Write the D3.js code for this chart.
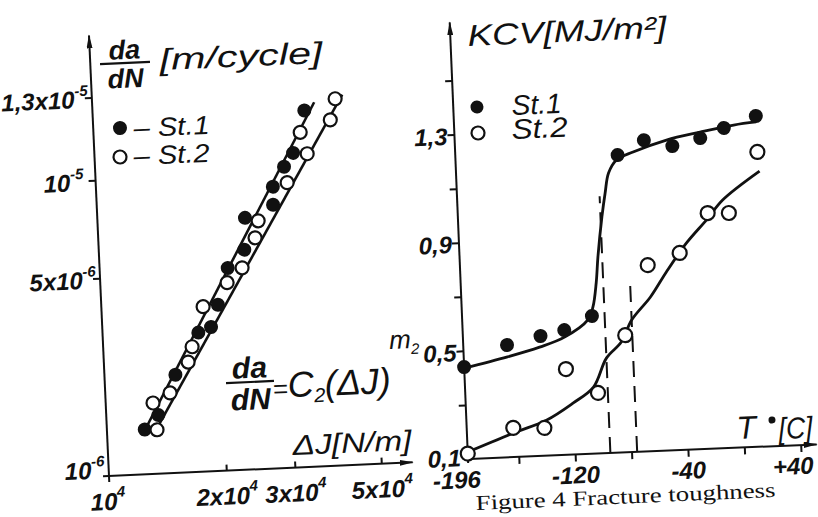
<!DOCTYPE html>
<html lang="en">
<head>
<meta charset="utf-8">
<title>Crack growth rate and impact toughness</title>
<script src="https://d3js.org/d3.v7.min.js"></script>
<style>
  body { margin: 0; background: #fff; }
  svg text { font-family: "Liberation Sans", "DejaVu Sans", sans-serif; font-style: italic; fill: #111; }
</style>
</head>
<body>
<div id="chart"></div>
<script>
// ---- left panel: da/dN vs dJ (log-log) ----
const dJ_st1   = [12500, 13600, 15200, 17600, 19000, 19900, 21300, 23600, 23900, 28300, 28400, 30500, 32300, 34900];
const dadN_st1 = [1.44e-6, 1.61e-6, 2.22e-6, 3.10e-6, 3.23e-6, 3.86e-6, 5.16e-6, 5.84e-6, 7.31e-6, 7.95e-6, 9.03e-6, 1.016e-5, 1.06e-5, 1.21e-5];
const dJ_st2   = [13440, 13220, 14660, 16440, 16900, 18230, 21140, 23180, 25230, 25810, 30940, 35090, 33870, 40580, 41990];
const dadN_st2 = [1.43e-6, 1.78e-6, 1.92e-6, 2.45e-6, 2.77e-6, 3.82e-6, 4.60e-6, 5.14e-6, 6.33e-6, 7.13e-6, 9.25e-6, 1.055e-5, 1.13e-5, 1.17e-5, 1.25e-5];
// fitted lines, end points
const fit1_dJ = [12280, 37070], fit1_dadN = [1.37e-6, 1.24e-5];
const fit2_dJ = [13280, 43830], fit2_dadN = [1.41e-6, 1.265e-5];
// ticks
const dJTicks = [1e4, 2e4, 3e4, 5e4];
const dJLabels = [["10", "4"], ["2x10", "4"], ["3x10", "4"], ["5x10", "4"]];
const dadNTicks = [1e-6, 5e-6, 1e-5, 1.3e-5];
const dadNLabels = [["10", "-6"], ["5x10", "-6"], ["10", "-5"], ["1,3x10", "-5"]];

// ---- right panel: KCV vs T ----
const T_st1   = [-196, -165, -141, -124, -104, -81, -62, -42, -22, -5, 18];
const kcv_st1 = [0.44, 0.515, 0.543, 0.561, 0.609, 1.199, 1.250, 1.224, 1.249, 1.283, 1.322];
const T_st2   = [-196, -163, -141, -124, -102, -81, -63, -40, -19, -4, 18];
const kcv_st2 = [0.12, 0.208, 0.203, 0.417, 0.324, 0.533, 0.788, 0.828, 0.971, 0.968, 1.189];
// hand drawn trend curves
const curve1_T   = [-196, -165, -142, -124, -107, -103, -100, -98, -94, -91, -88, -82, -70, -46, -22, 2, 18];
const curve1_kcv = [0.436, 0.471, 0.502, 0.535, 0.595, 0.642, 0.730, 0.826, 0.973, 1.061, 1.134, 1.181, 1.208, 1.247, 1.271, 1.292, 1.30];
const curve2_T   = [-196, -163, -139, -120, -105, -95, -84, -76, -62, -50, -35, -20, -8, 19];
const curve2_kcv = [0.126, 0.189, 0.232, 0.290, 0.346, 0.451, 0.508, 0.588, 0.670, 0.760, 0.863, 0.946, 1.017, 1.118];
// transition temperatures (dashed)
const dashT = [-95, -76];
const dashTop = [1.05, 0.74];
// ticks
const TTicks = [-196, -160, -120, -80, -40, 0, 40];
const TLabels = {"-196": "-196", "-120": "-120", "-40": "-40", "40": "+40"};
const kcvTicks = [0.1, 0.3, 0.5, 0.7, 0.9, 1.1, 1.3, 1.5];
const kcvLabels = {"0.1": "0,1", "0.5": "0,5", "0.9": "0,9", "1.3": "1,3"};

const W = 818, H = 517;
const svg = d3.select("#chart").append("svg").attr("width", W).attr("height", H);
svg.append("rect").attr("width", W).attr("height", H).attr("fill", "#fff");

const defs = svg.append("defs");
defs.append("marker").attr("id", "arrow")
  .attr("viewBox", "0 0 14 6").attr("refX", 13).attr("refY", 3)
  .attr("markerWidth", 14).attr("markerHeight", 6)
  .attr("markerUnits", "userSpaceOnUse").attr("orient", "auto")
  .append("path").attr("d", "M0,0 L14,3 L0,6 Z").attr("fill", "#111");

const ink = "#111";

// ===== left panel =====
const L = svg.append("g").attr("transform", "translate(109,476) rotate(-2.6)");
const xL = d3.scaleLog().domain([1e4, 6.02e4]).range([0, 304]);
const yL = d3.scaleLog().domain(dadNTicks).range([0, -198, -296, -379]);

L.append("path").attr("d", "M-6,0 H304").attr("stroke", ink).attr("stroke-width", 2).attr("marker-end", "url(#arrow)");
L.append("path").attr("d", "M0,6 V-441").attr("stroke", ink).attr("stroke-width", 2).attr("marker-end", "url(#arrow)");

const lyAxis = L.append("g").call(d3.axisLeft(yL).tickValues(dadNTicks.slice(1)).tickSize(7).tickFormat(""));
lyAxis.select(".domain").remove();
lyAxis.selectAll("line").attr("stroke", ink).attr("stroke-width", 2);
const lxAxis = L.append("g").call(d3.axisTop(xL).tickValues(dJTicks.slice(1)).tickSize(6).tickFormat(""));
lxAxis.select(".domain").remove();
lxAxis.selectAll("line").attr("stroke", ink).attr("stroke-width", 2);

// tick labels
dadNTicks.forEach((v, i) => {
  const t = L.append("text").attr("x", i === 2 ? -12 : -4).attr("y", yL(v) + (i === 0 ? 2 : 10))
    .attr("text-anchor", "end").attr("font-size", 24).attr("font-weight", "bold");
  t.append("tspan").text(dadNLabels[i][0]);
  t.append("tspan").attr("dy", -12).attr("font-size", 15).text(dadNLabels[i][1]);
});
dJTicks.forEach((v, i) => {
  const t = L.append("text").attr("x", xL(v) - (i === 0 ? 2 : 0)).attr("y", 34)
    .attr("text-anchor", "middle").attr("font-size", 24).attr("font-weight", "bold");
  t.append("tspan").text(dJLabels[i][0]);
  t.append("tspan").attr("dy", -13).attr("font-size", 15).text(dJLabels[i][1]);
});

// fitted lines
[[fit1_dJ, fit1_dadN], [fit2_dJ, fit2_dadN]].forEach(([xs, ys]) => {
  L.append("line")
    .attr("x1", xL(xs[0])).attr("y1", yL(ys[0]))
    .attr("x2", xL(xs[1])).attr("y2", yL(ys[1]))
    .attr("stroke", ink).attr("stroke-width", 2.6);
});

L.selectAll(".p1").data(d3.zip(dJ_st1, dadN_st1)).join("circle")
  .attr("cx", d => xL(d[0])).attr("cy", d => yL(d[1])).attr("r", 7).attr("fill", ink);
L.selectAll(".p2").data(d3.zip(dJ_st2, dadN_st2)).join("circle")
  .attr("cx", d => xL(d[0])).attr("cy", d => yL(d[1])).attr("r", 6.5)
  .attr("fill", "#fff").attr("stroke", ink).attr("stroke-width", 2.2);

// ===== right panel =====
const R = svg.append("g").attr("transform", "translate(468,459) rotate(-2.4)");
const xR = d3.scaleLinear().domain([-196, 51.7]).range([0, 349.5]);
const yR = d3.scaleLinear().domain([0.1, 1.715]).range([0, -437]);

R.append("path").attr("d", "M-4,0 H349").attr("stroke", ink).attr("stroke-width", 2).attr("marker-end", "url(#arrow)");
R.append("path").attr("d", "M0,4 V-437").attr("stroke", ink).attr("stroke-width", 2).attr("marker-end", "url(#arrow)");

const ryAxis = R.append("g").call(d3.axisLeft(yR).tickValues(kcvTicks.slice(1)).tickSize(7).tickFormat(""));
ryAxis.select(".domain").remove();
ryAxis.selectAll("line").attr("stroke", ink).attr("stroke-width", 2);
const rxAxis = R.append("g").call(d3.axisBottom(xR).tickValues(TTicks.slice(1)).tickSize(7).tickFormat(""));
rxAxis.select(".domain").remove();
rxAxis.selectAll("line").attr("stroke", ink).attr("stroke-width", 2);

kcvTicks.forEach(v => {
  const s = kcvLabels[String(v)];
  if (!s) return;
  R.append("text").attr("x", -7).attr("y", yR(v) + (v === 0.1 ? 7 : 10))
    .attr("text-anchor", "end").attr("font-size", 24).attr("font-weight", "bold").text(s);
});
TTicks.forEach(v => {
  const s = TLabels[String(v)];
  if (!s) return;
  const edge = v === -196 ? 12 : v === 40 ? 12 : null;
  R.append("text").attr("x", xR(v) + (edge === null ? 0 : edge)).attr("y", 29)
    .attr("text-anchor", edge === null ? "middle" : "end").attr("font-size", 24).attr("font-weight", "bold").text(s);
});

// dashed transition lines
dashT.forEach((t, i) => {
  R.append("line").attr("x1", xR(t)).attr("x2", xR(t)).attr("y1", yR(0.1)).attr("y2", yR(dashTop[i]))
    .attr("stroke", ink).attr("stroke-width", 2).attr("stroke-dasharray", "16,9");
});

const curve = d3.line().x(d => xR(d[0])).y(d => yR(d[1])).curve(d3.curveCatmullRom.alpha(0.5));
R.append("path").attr("d", curve(d3.zip(curve1_T, curve1_kcv))).attr("fill", "none").attr("stroke", ink).attr("stroke-width", 2.8);
R.append("path").attr("d", curve(d3.zip(curve2_T, curve2_kcv))).attr("fill", "none").attr("stroke", ink).attr("stroke-width", 2.8);

R.selectAll(".q1").data(d3.zip(T_st1, kcv_st1)).join("circle")
  .attr("cx", d => xR(d[0])).attr("cy", d => yR(d[1])).attr("r", 7).attr("fill", ink);
R.selectAll(".q2").data(d3.zip(T_st2, kcv_st2)).join("circle")
  .attr("cx", d => xR(d[0])).attr("cy", d => yR(d[1])).attr("r", 7)
  .attr("fill", "#fff").attr("stroke", ink).attr("stroke-width", 2.2);

// ===== free text (titles, legends, formula) =====
function note(x, y, rot) {
  return svg.append("g").attr("transform", `translate(${x},${y}) rotate(${rot === undefined ? -2.5 : rot})`);
}
function frac(g, top, bot, size, half) {
  g.append("text").attr("y", -4).attr("text-anchor", "middle").attr("font-size", size).attr("font-weight", "bold").text(top);
  g.append("line").attr("x1", -half).attr("x2", half).attr("y1", 0).attr("y2", 0).attr("stroke", ink).attr("stroke-width", 2.2);
  g.append("text").attr("y", size * 0.92).attr("text-anchor", "middle").attr("font-size", size).attr("font-weight", "bold").text(bot);
}

// left y label
frac(note(125, 63), "da", "dN", 27, 25);
note(160, 70).append("text").attr("font-size", 30).attr("textLength", 163).attr("lengthAdjust", "spacingAndGlyphs").text("[m/cycle]");

// left legend
note(120, 128).append("circle").attr("r", 7).attr("fill", ink);
note(120, 157).append("circle").attr("r", 6.5).attr("fill", "#fff").attr("stroke", ink).attr("stroke-width", 2.2);
note(134, 137).append("text").attr("font-size", 26).attr("textLength", 76).attr("lengthAdjust", "spacingAndGlyphs").text("– St.1");
note(134, 165).append("text").attr("font-size", 26).attr("textLength", 76).attr("lengthAdjust", "spacingAndGlyphs").text("– St.2");

// formula
frac(note(250, 382), "da", "dN", 30, 24);
const ft = note(273, 398).append("text").attr("font-size", 36);
ft.append("tspan").attr("font-size", 26).text("=");
ft.append("tspan").text("C");
ft.append("tspan").attr("font-size", 20).attr("dy", 6).text("2");
ft.append("tspan").attr("dy", -6).text("(ΔJ)");
ft.append("tspan").attr("font-size", 26).attr("dy", -44).text("m");
ft.append("tspan").attr("font-size", 15).attr("dy", 6).text("2");

note(293, 455).append("text").attr("font-size", 28).attr("textLength", 119).attr("lengthAdjust", "spacingAndGlyphs").text("ΔJ[N/m]");

// right title, legend, x label
note(468, 46).append("text").attr("font-size", 30).attr("textLength", 199).attr("lengthAdjust", "spacingAndGlyphs").text("KCV[MJ/m²]");
note(477, 107).append("circle").attr("r", 6.5).attr("fill", ink);
note(478, 133).append("circle").attr("r", 6.5).attr("fill", "#fff").attr("stroke", ink).attr("stroke-width", 2.2);
note(512, 115).append("text").attr("font-size", 28).attr("textLength", 50).attr("lengthAdjust", "spacingAndGlyphs").text("St.1");
note(512, 139).append("text").attr("font-size", 28).attr("textLength", 56).attr("lengthAdjust", "spacingAndGlyphs").text("St.2");

note(737, 439).append("text").attr("font-size", 32).text("T");
note(772, 420).append("circle").attr("r", 3.5).attr("fill", ink);
note(779, 439).append("text").attr("font-size", 30).attr("textLength", 34).attr("lengthAdjust", "spacingAndGlyphs").text("[C]");

// caption at the bottom edge
note(476, 510).append("text").attr("font-size", 21).attr("textLength", 300).attr("lengthAdjust", "spacingAndGlyphs")
  .style("font-family", "'Liberation Serif', serif").style("font-style", "normal").attr("fill", "#444")
  .text("Figure 4 Fracture toughness");
</script>
</body>
</html>
